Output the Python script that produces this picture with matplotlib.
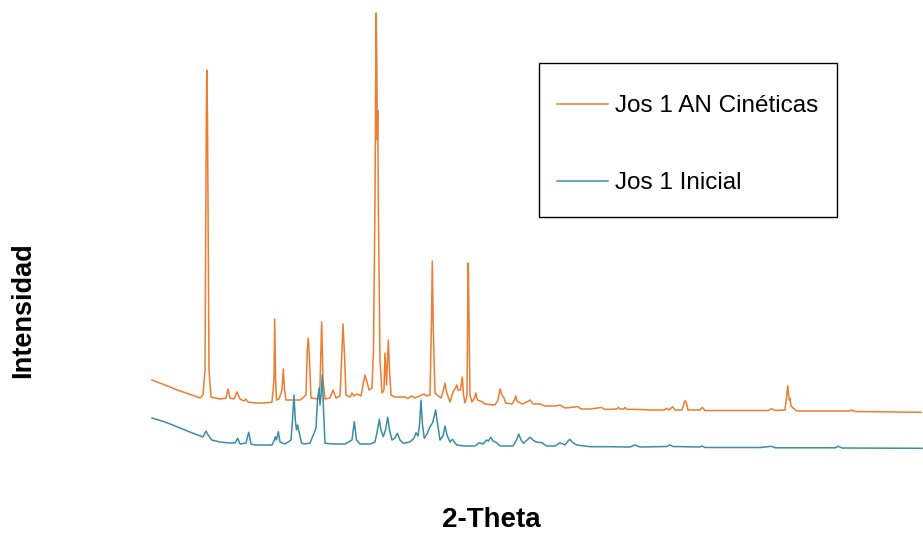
import matplotlib
matplotlib.use("Agg")
import matplotlib.pyplot as plt
from matplotlib.patches import Rectangle

plt.rcParams['font.family'] = ['Liberation Sans', 'DejaVu Sans']

# 2-theta (deg) and intensity (counts, stacked)
cin_2theta = [5.00, 6.30, 7.80, 9.30, 9.80, 10.10, 10.30, 10.43, 10.48, 10.55, 10.70, 10.90,
              11.80, 12.40, 12.60, 12.80, 13.20, 13.50, 13.80, 14.20, 14.40, 14.60, 15.30, 16.30,
              17.00, 17.20, 17.27, 17.36, 17.45, 17.70, 18.00, 18.13, 18.25, 18.40, 19.80, 20.40,
              20.53, 20.63, 20.75, 20.90, 21.60, 21.80, 21.97, 22.10, 22.30, 22.80, 23.10, 23.40,
              23.80, 24.00, 24.10, 24.25, 24.40, 24.80, 25.00, 25.20, 25.50, 25.90, 26.10, 26.30,
              26.50, 26.70, 27.00, 27.15, 27.30, 27.38, 27.42, 27.48, 27.53, 27.57, 27.63, 27.80,
              28.00, 28.20, 28.30, 28.45, 28.63, 28.75, 28.90, 29.30, 30.30, 30.60, 30.97, 31.30,
              31.97, 32.20, 32.50, 32.80, 32.95, 33.03, 33.13, 33.30, 33.50, 33.90, 34.15, 34.30,
              34.45, 34.80, 35.10, 35.30, 35.47, 35.60, 35.85, 36.03, 36.15, 36.30, 36.50, 36.58,
              36.63, 36.70, 36.80, 37.00, 37.25, 37.37, 37.55, 37.97, 38.30, 39.30, 39.60, 39.80,
              40.00, 40.20, 40.37, 41.00, 41.25, 41.37, 41.50, 42.00, 42.50, 42.80, 43.10, 43.80,
              44.30, 45.30, 45.80, 46.30, 47.30, 47.60, 47.90, 48.80, 49.97, 50.30, 51.50, 51.63,
              51.80, 52.20, 52.30, 52.50, 53.80, 54.80, 56.20, 56.47, 56.70, 57.07, 57.30, 58.00,
              58.20, 58.30, 58.45, 58.60, 59.80, 60.03, 60.30, 61.80, 63.80, 65.30, 66.60, 66.97,
              67.30, 68.30, 68.48, 68.57, 68.66, 68.73, 68.80, 68.90, 69.20, 69.50, 71.80, 74.70,
              74.97, 75.30, 77.80, 79.80, 81.90]
cin_int = [900, 850, 790, 740, 720, 750, 1000, 3500, 4000, 3500, 1000, 730,
           710, 720, 810, 720, 710, 780, 710, 690, 710, 680, 670, 670,
           680, 900, 1510, 900, 700, 710, 800, 1010, 800, 700, 700, 750,
           1200, 1320, 1100, 720, 710, 850, 1480, 900, 710, 720, 800, 720,
           740, 1200, 1460, 1150, 750, 730, 770, 740, 760, 740, 850, 950,
           880, 800, 820, 1200, 2700, 4100, 4570, 4100, 3300, 3600, 2700, 1100,
           770, 800, 1170, 850, 1300, 1000, 750, 730, 730, 715, 740, 720,
           750, 760, 740, 750, 1500, 2090, 1400, 770, 750, 720, 800, 870,
           780, 680, 780, 810, 850, 800, 800, 930, 750, 670, 750, 1700,
           2070, 1500, 750, 680, 720, 770, 700, 683, 660, 650, 700, 810,
           750, 720, 670, 660, 700, 740, 690, 660, 680, 700, 660, 660,
           640, 640, 650, 620, 630, 633, 610, 610, 625, 605, 610, 627,
           610, 610, 627, 607, 605, 600, 600, 617, 600, 633, 600, 600,
           660, 693, 670, 600, 600, 627, 595, 595, 595, 595, 595, 613,
           595, 600, 750, 843, 750, 700, 717, 640, 613, 590, 590, 590,
           600, 585, 582, 580, 577]

ini_2theta = [5.00, 6.30, 7.80, 9.30, 10.10, 10.30, 10.40, 10.55, 10.97, 11.80, 12.80, 13.30,
              13.57, 13.80, 14.40, 14.67, 14.90, 15.30, 16.30, 17.00, 17.20, 17.33, 17.45, 17.63,
              17.80, 18.30, 18.90, 19.05, 19.20, 19.33, 19.45, 19.57, 19.70, 19.97, 20.30, 20.80,
              21.20, 21.40, 21.55, 21.70, 21.80, 21.90, 22.03, 22.15, 22.30, 23.30, 24.30, 25.00,
              25.23, 25.45, 25.80, 26.80, 27.30, 27.55, 27.73, 27.90, 28.13, 28.35, 28.57, 28.75,
              29.00, 29.30, 29.53, 29.80, 30.13, 30.80, 31.20, 31.40, 31.60, 31.75, 31.90, 32.05,
              32.23, 32.50, 32.80, 33.07, 33.25, 33.37, 33.50, 33.80, 34.10, 34.30, 34.50, 34.80,
              35.03, 35.47, 36.30, 37.30, 37.73, 38.10, 38.47, 38.65, 38.87, 39.10, 39.47, 39.80,
              41.10, 41.45, 41.67, 41.90, 42.15, 42.50, 42.80, 43.10, 43.40, 43.97, 44.47, 45.30,
              45.80, 46.30, 46.60, 46.80, 47.00, 47.47, 48.80, 50.80, 52.80, 53.30, 53.80, 56.47,
              56.80, 57.10, 59.80, 60.00, 60.30, 65.80, 66.97, 67.30, 73.30, 73.63, 74.00, 82.00]
ini_int = [520, 480, 420, 360, 330, 370, 390, 360, 300, 280, 270, 270,
           317, 260, 270, 377, 260, 250, 250, 250, 290, 333, 300, 383,
           280, 260, 300, 500, 750, 500, 400, 450, 380, 267, 260, 270,
           367, 420, 700, 817, 650, 750, 950, 600, 267, 260, 260, 300,
           483, 300, 260, 260, 280, 400, 507, 400, 333, 400, 527, 400,
           300, 320, 367, 300, 267, 280, 320, 373, 340, 450, 700, 450,
           317, 360, 433, 473, 550, 600, 500, 300, 340, 440, 350, 280,
           307, 250, 240, 240, 273, 260, 300, 290, 327, 290, 273, 240,
           240, 300, 360, 300, 267, 300, 327, 300, 280, 273, 240, 240,
           273, 250, 290, 307, 280, 250, 233, 233, 230, 250, 230, 235,
           250, 235, 230, 240, 225, 225, 237, 222, 222, 237, 220, 217]

series_labels = ['Jos 1 AN Cinéticas', 'Jos 1 Inicial']
colors = ['#ED7D31', '#3B8DA8']

W, H = 923, 533
fig = plt.figure(figsize=(W / 100, H / 100), dpi=100)
ax = fig.add_axes([152 / W, (H - 470) / H, (W - 152) / W, 470 / H])

ax.plot(cin_2theta, cin_int, color=colors[0], lw=1.1, label=series_labels[0], clip_on=False)
ax.plot(ini_2theta, ini_int, color=colors[1], lw=1.1, label=series_labels[1], clip_on=False)

ax.set_xlim(5, 82.1)
ax.set_ylim(0, 4700)
for s in ax.spines.values():
    s.set_visible(False)
ax.set_xticks([])
ax.set_yticks([])

# legend box drawn separately so its padding can differ from the entries
fig.patches.append(Rectangle((539 / W, 1 - 217 / H), 298 / W, 154 / H,
                             transform=fig.transFigure, fill=False,
                             edgecolor='black', lw=1.0))
leg = ax.legend(loc='upper left', bbox_to_anchor=(557 / W, 1 - 95 / H),
                bbox_transform=fig.transFigure, borderaxespad=0, fontsize=17.5,
                frameon=False, borderpad=0, labelspacing=2.28,
                handlelength=2.1, handletextpad=0.3)

fig.text(491 / W, 1 - 520 / H, '2-Theta', fontsize=20, fontweight='bold',
         ha='center', va='center')
fig.text(23.5 / W, 1 - 310.5 / H, 'Intensidad', fontsize=19.5, fontweight='bold',
         rotation=90, ha='center', va='center')

fig.savefig('out.png', dpi=100)
